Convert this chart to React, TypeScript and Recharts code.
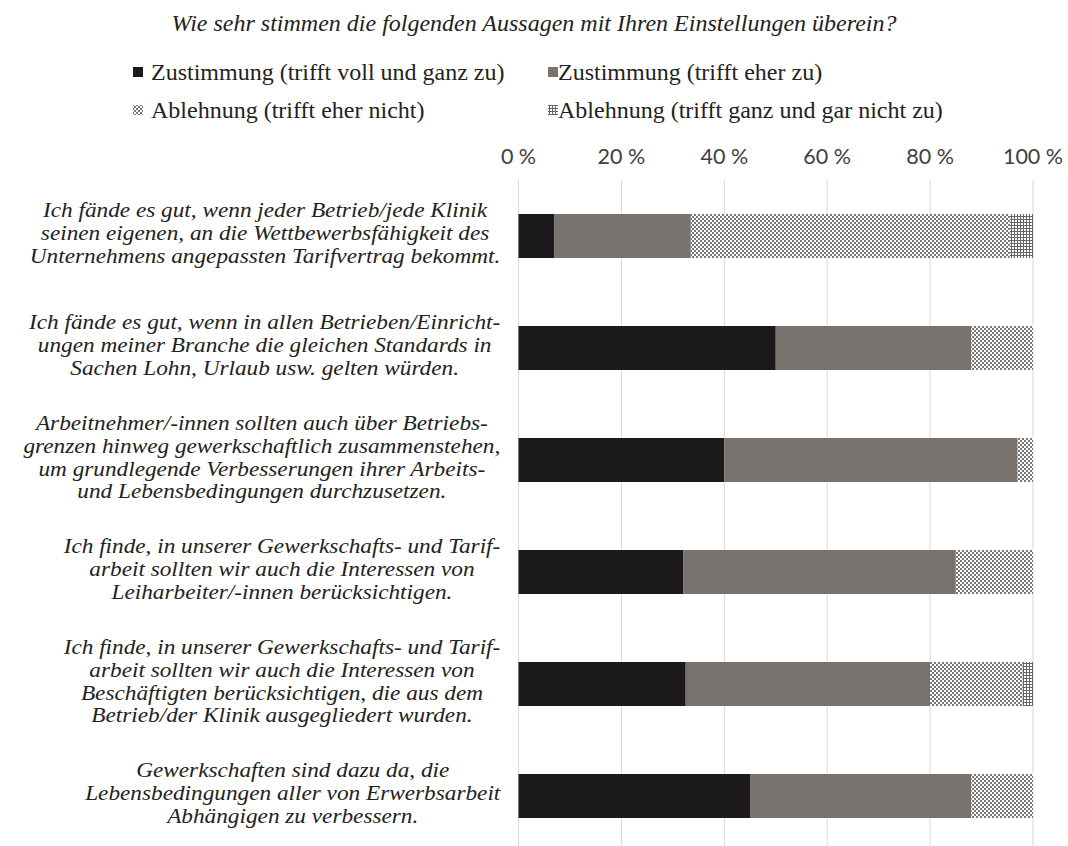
import { BarChart, Bar, XAxis, YAxis, CartesianGrid } from 'recharts';

const categories = [
  'Ich fände es gut, wenn jeder Betrieb/jede Klinik\nseinen eigenen, an die Wettbewerbsfähigkeit des\nUnternehmens angepassten Tarifvertrag bekommt.',
  'Ich fände es gut, wenn in allen Betrieben/Einricht-\nungen meiner Branche die gleichen Standards in\nSachen Lohn, Urlaub usw. gelten würden.',
  'Arbeitnehmer/-innen sollten auch über Betriebs-\ngrenzen hinweg gewerkschaftlich zusammenstehen,\num grundlegende Verbesserungen ihrer Arbeits-\nund Lebensbedingungen durchzusetzen.',
  'Ich finde, in unserer Gewerkschafts- und Tarif-\narbeit sollten wir auch die Interessen von\nLeiharbeiter/-innen berücksichtigen.',
  'Ich finde, in unserer Gewerkschafts- und Tarif-\narbeit sollten wir auch die Interessen von\nBeschäftigten berücksichtigen, die aus dem\nBetrieb/der Klinik ausgegliedert wurden.',
  'Gewerkschaften sind dazu da, die\nLebensbedingungen aller von Erwerbsarbeit\nAbhängigen zu verbessern.',
];

const vollUndGanz = [7, 50, 40, 32, 32.5, 45];
const eherZu = [26.5, 38, 57, 53, 47.5, 43];
const eherNicht = [62, 12, 3, 15, 18, 12];
const garNicht = [4.5, 0, 0, 0, 2, 0];

const xTicks = [0, 20, 40, 60, 80, 100];

const seriesNames = [
  'Zustimmung (trifft voll und ganz zu)',
  'Zustimmung (trifft eher zu)',
  'Ablehnung (trifft eher nicht)',
  'Ablehnung (trifft ganz und gar nicht zu)',
];

const BLACK = '#1c191a';
const GRAY = '#78726f';
const SERIF = '"Liberation Serif", "Times New Roman", serif';

const data = categories.map((name, i) => ({
  name,
  voll: vollUndGanz[i],
  eher: eherZu[i],
  nicht: eherNicht[i],
  gar: garNicht[i],
}));

// labels are a bit wider than tall in the original, so stretch horizontally
const LABEL_FONT = 20.5;
const LABEL_SX = 1.135;
const LINE_H = 22.8;

let ctx: CanvasRenderingContext2D | null = null;
function measure(text: string) {
  if (!ctx) ctx = document.createElement('canvas').getContext('2d');
  if (!ctx) return text.length * 9;
  ctx.font = `italic ${LABEL_FONT}px "Liberation Serif"`;
  return ctx.measureText(text).width * LABEL_SX;
}

const LabelTick = ({ x, y, payload }: any) => {
  const lines = String(payload.value).split('\n');
  const w = Math.max(...lines.map(measure));
  const right = x - 10;
  const cx = right - w / 2;
  const y0 = y - ((lines.length - 1) * LINE_H) / 2 - 3;
  return (
    <g transform={`translate(${cx},0) scale(${LABEL_SX},1)`}>
      <text
        x={0}
        textAnchor="middle"
        fontFamily={SERIF}
        fontStyle="italic"
        fontSize={LABEL_FONT}
        fill="#222"
      >
        {lines.map((l, i) => (
          <tspan key={i} x={0} y={y0 + i * LINE_H} dy="0.35em">
            {l}
          </tspan>
        ))}
      </text>
    </g>
  );
};

function Header() {
  const fills = [BLACK, GRAY, 'url(#checker)', 'url(#gridpat)'];
  const pos = [
    { mx: 133, tx: 151, y: 72 },
    { mx: 548, tx: 558, y: 72 },
    { mx: 133, tx: 151, y: 110 },
    { mx: 548, tx: 558, y: 110 },
  ];
  return (
    <svg width={1068} height={140} style={{ position: 'absolute', left: 0, top: 0 }}>
      <defs>
        <pattern id="checker" width={4} height={4} patternUnits="userSpaceOnUse">
          <rect width={4} height={4} fill="#ffffff" />
          <rect x={0} y={0} width={2} height={2} fill="#767676" />
          <rect x={2} y={2} width={2} height={2} fill="#767676" />
        </pattern>
        <pattern id="gridpat" width={3} height={3} patternUnits="userSpaceOnUse">
          <rect width={3} height={3} fill="#ffffff" />
          <rect x={0} y={0} width={3} height={1} fill="#666" />
          <rect x={0} y={0} width={1} height={3} fill="#666" />
        </pattern>
      </defs>
      <text
        x={534}
        y={23}
        dy="0.35em"
        textAnchor="middle"
        fontFamily={SERIF}
        fontStyle="italic"
        fontSize={24}
        fill="#222"
      >
        Wie sehr stimmen die folgenden Aussagen mit Ihren Einstellungen überein?
      </text>
      {seriesNames.map((n, i) => (
        <g key={n}>
          <rect x={pos[i].mx} y={pos[i].y - 5} width={10} height={10} fill={fills[i]} />
          <text
            x={pos[i].tx}
            y={pos[i].y}
            dy="0.35em"
            fontFamily={SERIF}
            fontSize={24}
            fill="#222"
          >
            {n}
          </text>
        </g>
      ))}
    </svg>
  );
}

export default function App() {
  return (
    <div
      style={{
        position: 'absolute',
        left: 0,
        top: 0,
        width: 1068,
        height: 846,
        overflow: 'hidden',
        background: '#fff',
      }}
    >
      <Header />
      <div style={{ position: 'absolute', left: 0, top: 0 }}>
        <BarChart
          width={1068}
          height={852}
          data={data}
          layout="vertical"
          margin={{ top: 140, right: 35, bottom: 0, left: 0 }}
        >
          <CartesianGrid horizontal={false} stroke="#d9d9d9" />
          <XAxis
            type="number"
            orientation="top"
            domain={[0, 100]}
            ticks={xTicks}
            tickFormatter={(v) => `${v} %`}
            axisLine={false}
            tickLine={false}
            height={40}
            tickMargin={10}
            tick={{ fontFamily: 'Lato', fontSize: 21.5, fill: '#404040' }}
          />
          <YAxis
            type="category"
            dataKey="name"
            width={518.5}
            axisLine={false}
            tickLine={false}
            tick={<LabelTick />}
            interval={0}
          />
          <Bar dataKey="voll" name={seriesNames[0]} stackId="a" fill={BLACK} barSize={44} isAnimationActive={false} />
          <Bar dataKey="eher" name={seriesNames[1]} stackId="a" fill={GRAY} barSize={44} isAnimationActive={false} />
          <Bar dataKey="nicht" name={seriesNames[2]} stackId="a" fill="url(#checker)" barSize={44} isAnimationActive={false} />
          <Bar dataKey="gar" name={seriesNames[3]} stackId="a" fill="url(#gridpat)" barSize={44} isAnimationActive={false} />
        </BarChart>
      </div>
    </div>
  );
}
